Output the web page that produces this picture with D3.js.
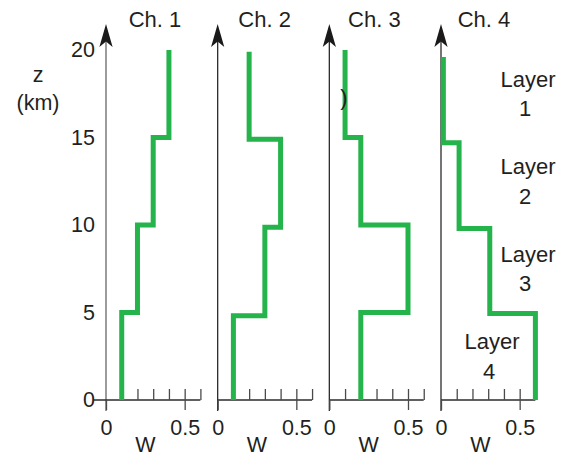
<!DOCTYPE html>
<html>
<head>
<meta charset="utf-8">
<script src="https://cdn.jsdelivr.net/npm/d3@7"></script>
<style>
  body { margin: 0; background: #fff; }
  svg { display: block; }
  text { font-family: "Liberation Sans", Arial, sans-serif; fill: #231f20; }
</style>
</head>
<body>
<svg id="chart"></svg>
<script>
// data
const channels = ["Ch. 1", "Ch. 2", "Ch. 3", "Ch. 4"]
const zTicks = [0, 5, 10, 15, 20]
const wMinorTicks = [0.1, 0.2, 0.3, 0.4, 0.5, 0.6]
const wLabelTicks = [0, 0.5]
const layerNames = ["1", "2", "3", "4"]
const layerMids = [17.5, 12.5, 7.5, 2.5]

// layer boundaries (km) and W per layer, bottom to top
const ch1Z = [0, 5, 10, 15, 20]
const ch1W = [0.1, 0.2, 0.3, 0.4]
const ch2Z = [0, 4.82, 9.87, 14.9, 19.9]
const ch2W = [0.1, 0.3, 0.4, 0.2]
const ch3Z = [0, 5, 10, 15, 20]
const ch3W = [0.2, 0.5, 0.2, 0.1]
const ch4Z = [0, 4.95, 9.8, 14.7, 19.6]
const ch4W = [0.6, 0.31, 0.115, 0.015]

const profiles = [
    { z: ch1Z, w: ch1W },
    { z: ch2Z, w: ch2W },
    { z: ch3Z, w: ch3W },
    { z: ch4Z, w: ch4W }
]

const width = 573
const height = 457
const green = "#25b34b"

const svg = d3.select("#chart")
    .attr("width", width)
    .attr("height", height)

const panelX = d3.scalePoint()
    .domain(channels)
    .range([106, 441])

const yScale = d3.scaleLinear()
    .domain([0, 20])
    .range([400, 50])

// 0.5 W ~ 78.7 px
const wScale = d3.scaleLinear()
    .domain([0, 0.6])
    .range([0, 94.4])

const stepLine = d3.line()
    .x(d => wScale(d[0]))
    .y(d => yScale(d[1]))

channels.forEach((ch, i) => {
    const g = svg.append("g")
        .attr("transform", `translate(${panelX(ch)},0)`)

    const axisColor = i == 0 ? "#666" : "#2b2b2b"

    // vertical z axis
    g.append("line")
        .attr("x1", 0).attr("x2", 0)
        .attr("y1", 32).attr("y2", 411)
        .attr("stroke", axisColor)
        .attr("stroke-width", 1.3)

    g.append("path")
        .attr("d", "M0,24 L-6.6,47 L0,41.5 L6.6,47 Z")
        .attr("fill", "#1a1a1a")

    // horizontal W axis
    g.append("line")
        .attr("x1", i == 0 ? -12 : 0).attr("x2", wScale(0.6))
        .attr("y1", yScale(0)).attr("y2", yScale(0))
        .attr("stroke", "#2b2b2b")
        .attr("stroke-width", 1.3)

    const minor = g.append("g")
        .attr("transform", `translate(0,${yScale(0)})`)
        .call(d3.axisTop(wScale).tickValues(wMinorTicks).tickSize(11).tickFormat(""))
    minor.select(".domain").remove()
    minor.selectAll(".tick line").attr("stroke", "#4a4a4a").attr("stroke-width", 1.3)

    const lab = g.append("g")
        .attr("transform", `translate(0,${yScale(0)})`)
        .call(d3.axisBottom(wScale).tickValues(wLabelTicks).tickSize(10).tickPadding(10)
            .tickFormat(d => d == 0 ? "0" : d3.format(".1f")(d)))
    lab.select(".domain").remove()
    lab.selectAll(".tick line").attr("stroke", "#4a4a4a").attr("stroke-width", 1.3)
    lab.selectAll(".tick text")
        .attr("fill", "#231f20")
        .style("font-size", "21.5px")
        .style("font-family", "Liberation Sans, Arial, sans-serif")

    g.append("text")
        .attr("x", wScale(0.25))
        .attr("y", 452)
        .attr("text-anchor", "middle")
        .style("font-size", "21.5px")
        .text("W")

    g.append("text")
        .attr("x", 49 - 2 * i)
        .attr("y", 27)
        .attr("text-anchor", "middle")
        .style("font-size", "22px")
        .text(ch)

    // step profile
    const p = profiles[i]
    const pts = []
    p.w.forEach((w, k) => {
        pts.push([w, p.z[k]])
        pts.push([w, p.z[k + 1]])
    })
    g.append("path")
        .attr("d", stepLine(pts))
        .attr("fill", "none")
        .attr("stroke", green)
        .attr("stroke-width", 5)
        .attr("stroke-linejoin", "miter")
})

// z tick labels
const yAx = svg.append("g")
    .attr("transform", `translate(${panelX(channels[0])},0)`)
    .call(d3.axisLeft(yScale).tickValues(zTicks).tickSize(0).tickPadding(11))
yAx.select(".domain").remove()
yAx.selectAll(".tick text")
    .attr("fill", "#231f20")
    .style("font-size", "21.5px")
    .style("font-family", "Liberation Sans, Arial, sans-serif")

svg.append("text")
    .attr("x", 38).attr("y", 82)
    .attr("text-anchor", "middle")
    .style("font-size", "21.5px")
    .text("z")

svg.append("text")
    .attr("x", 38).attr("y", 110)
    .attr("text-anchor", "middle")
    .style("font-size", "21.5px")
    .text("(km)")

// stray glyph in Ch. 3 panel
svg.append("text")
    .attr("x", 344).attr("y", 105)
    .attr("text-anchor", "middle")
    .style("font-size", "22px")
    .text(")")

// layer labels
const layerX = [528, 528, 528, 492]
layerNames.forEach((n, k) => {
    const cy = yScale(layerMids[k])
    const t = svg.append("text")
        .attr("text-anchor", "middle")
        .style("font-size", "22px")
    t.append("tspan").attr("x", layerX[k]).attr("y", cy - 7).text("Layer")
    t.append("tspan").attr("x", layerX[k] - 3).attr("y", cy + 22.5).text(n)
})
</script>
</body>
</html>
